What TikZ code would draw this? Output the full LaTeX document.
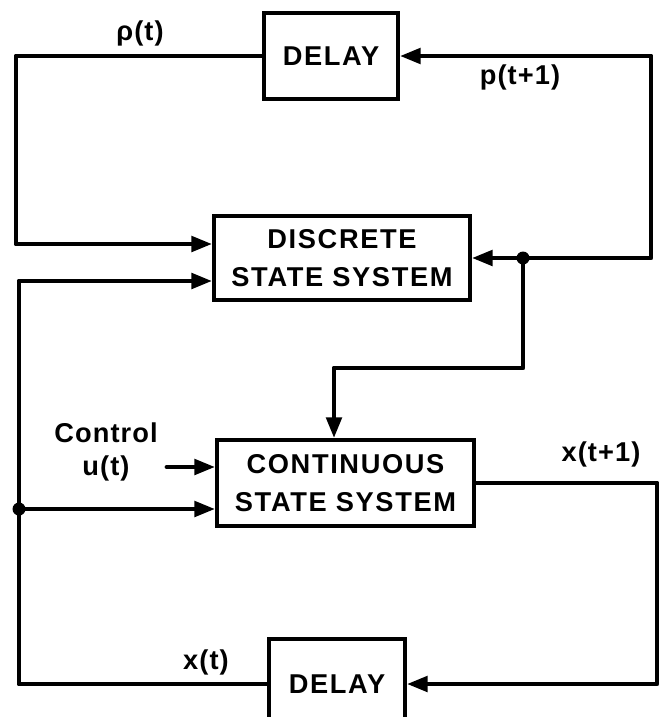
\documentclass[tikz,border=0pt]{standalone}
\usepackage{fontspec}
\setmainfont{Liberation Sans}
\newfontfamily\blkfont{Liberation Sans}[LetterSpace=6]
\newfontfamily\lblfont{Liberation Sans}[LetterSpace=4]
\usepackage{tikz}
\usetikzlibrary{arrows.meta,positioning,calc}

\begin{document}
\begin{tikzpicture}[
      x=0.02cm, y=-0.02cm,
      >={Triangle[length=0.42cm,width=0.3cm]},
      blk/.style={rectangle, draw=black, line width=1.9pt, fill=white,
                  align=center, inner sep=0pt,
                  font=\blkfont\bfseries\fontsize{15.5pt}{21.5pt}\selectfont},
      lbl/.style={align=center, inner sep=0pt,
                  font=\lblfont\bfseries\fontsize{15.5pt}{19pt}\selectfont},
      a/.style={->, line width=2.8pt, line cap=round, line join=round},
      l/.style={line width=2.8pt, line cap=round, line join=round},
      dot/.style={fill=black},
    ]
      \useasboundingbox (0,0) rectangle (663,717);
      \clip (0,0) rectangle (663,717);

      \node[blk, minimum width=2.68cm, minimum height=1.72cm] (delayp)
            at (331,56) {DELAY};
      \node[blk, minimum width=5.12cm, minimum height=1.68cm] (discrete)
            at (342,258) {DISCRETE\\STATE SYSTEM};
      \node[blk, minimum width=5.14cm, minimum height=1.72cm] (continuous)
            at (345.5,483) {CONTINUOUS\\STATE SYSTEM};
      \node[blk, minimum width=2.72cm, minimum height=1.8cm] (delayx)
            at (337,684) {DELAY};

      \coordinate (ptl) at (16,56);
      \coordinate (ptr) at (651,56);
      \coordinate (jp)  at (523,258);
      \coordinate (pcd) at (334,368);
      \coordinate (pxr) at (657,684);
      \coordinate (pbl) at (19,684);
      \coordinate (jx)  at (19,509);
      \coordinate (uin) at (167,467);

      \node[lbl] (rho)   at (140,33)  {ρ(t)};
      \node[lbl] (pnext) at (520,77)  {p(t+1)};
      \node[lbl] (ctrl)  at (106,452) {Control\\u(t)};
      \node[lbl] (xnext) at (601,454) {x(t+1)};
      \node[lbl] (xnow)  at (206,662) {x(t)};

      \draw[a] (delayp.west) -- (ptl) |- ([yshift=0.28cm]discrete.west);
      \draw[a] (jp) -| (ptr) -- (delayp.east);
      \draw[a] (jp) -- (discrete.east);
      \draw[a] (jp) |- (pcd) -- (pcd |- continuous.north);
      \draw[a] (uin) -- (uin -| continuous.west);
      \draw[a] (jx) -- (jx -| continuous.west);
      \draw[a] (continuous.east) -| (pxr) -- (delayx.east);
      \draw[l] (delayx.west) -- (pbl) -- (jx);
      \draw[a] (jx) |- ([yshift=-0.46cm]discrete.west);
      \fill[dot] (jp) circle[radius=0.13cm];
      \fill[dot] (jx) circle[radius=0.13cm];
    \end{tikzpicture}
\end{document}
